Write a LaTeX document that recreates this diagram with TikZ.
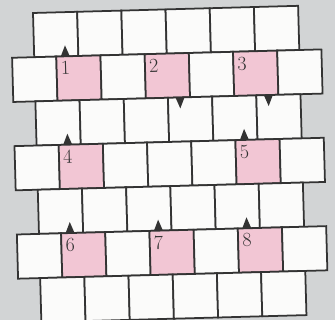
\documentclass[tikz,border=0pt]{standalone}
\usepackage{xcolor}
\definecolor{brkpaper}{HTML}{D2D4D5}
\definecolor{brkline}{HTML}{333333}
\definecolor{brkpink}{HTML}{F2C6D4}
\definecolor{brkwhite}{HTML}{FBFBFA}
\usepackage{tikz}

\begin{document}
\begin{tikzpicture}[x=0.03cm, y=0.03cm,
  cell/.style={draw=brkline, fill=brkwhite, line width=1.5pt,
               minimum width=1.326cm, minimum height=1.326cm,
               inner sep=0pt, outer sep=0pt},
  hot/.style={cell, fill=brkpink},
  num/.style={anchor=north west, inner sep=0pt, text=brkline,
              font=\fontsize{17}{17}\selectfont},
  tip/.style={fill=brkline}
]
\fill[brkpaper] (0,0) rectangle (335,320);
\useasboundingbox (0,0) rectangle (335,320);

\begin{scope}[shift={(33,307)}, rotate=1.55, transform shape]
%% bricks: odd rows 6 wide, even rows 7 wide and half a brick to the left
\foreach \r in {1,...,7} {
  \pgfmathtruncatemacro\nc{iseven(\r) ? 7 : 6}
  \pgfmathsetmacro\ustart{iseven(\r) ? -22.1 : 0}
  \foreach \c in {1,...,\nc} {
    \pgfmathtruncatemacro\pk{iseven(\r) && iseven(\c) && (\r*10+\c != 44)}
    \ifnum\pk=1 \def\st{hot}\else\def\st{cell}\fi
    \node[\st] (c-\r-\c) at ({\ustart + 44.2*(\c-1) + 22.1}, {-44.2*(\r-1) - 22.1}) {};
  }
}

%% numbers
\foreach \r/\c/\t in {2/2/1, 2/4/2, 2/6/3, 4/2/4, 4/6/5, 6/2/6, 6/4/7, 6/6/8}
  \node[num, xshift=0.12cm, yshift=-0.15cm] (n\t) at (c-\r-\c.north west) {\t};

%% little arrows
\foreach \n in {c-2-2, c-4-2, c-4-6, c-6-2, c-6-4, c-6-6}
  \fill[tip] (\n.north west) ++(4.5,0) -- ++(9,0) -- ++(-4.5,11) -- cycle;
\foreach \n in {c-2-4, c-2-6}
  \fill[tip] (\n.south east) ++(-5.5,0) -- ++(-9,0) -- ++(4.5,-11) -- cycle;
\end{scope}
\end{tikzpicture}
\end{document}
